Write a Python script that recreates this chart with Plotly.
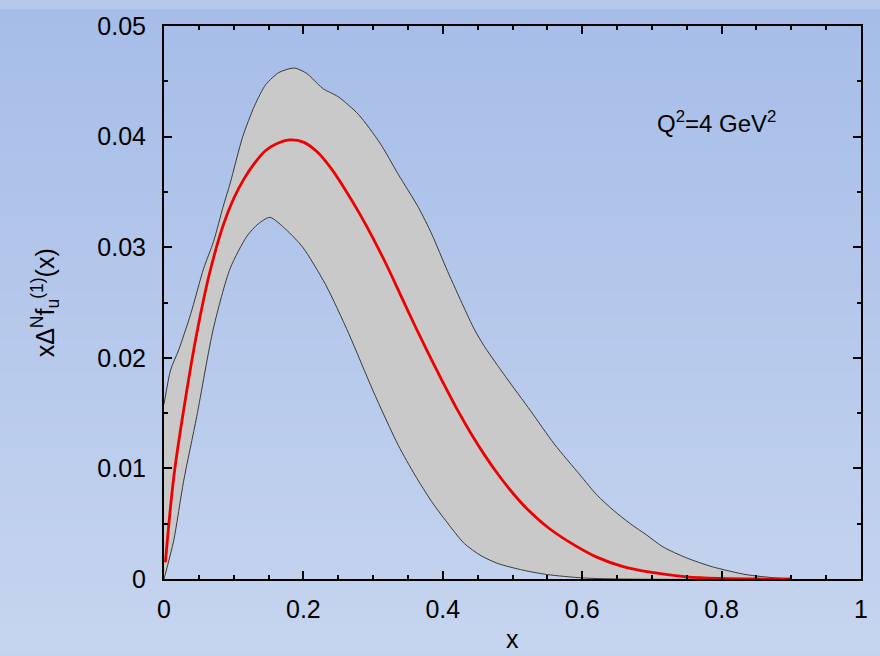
import plotly.graph_objects as go

# ---- data ----
x_central = [0.002, 0.014, 0.028, 0.047, 0.066, 0.085, 0.100, 0.115, 0.130, 0.145, 0.160, 0.180,
             0.200, 0.220, 0.240, 0.260, 0.280, 0.300, 0.320, 0.340, 0.360, 0.380, 0.400, 0.420, 0.440,
             0.460, 0.480, 0.500, 0.520, 0.550, 0.580, 0.620, 0.660, 0.700, 0.750, 0.800, 0.850, 0.900]
y_central = [0.0015, 0.0092, 0.0152, 0.0222, 0.0278, 0.0320, 0.0344, 0.0362, 0.0376, 0.0387, 0.0393, 0.0397,
             0.0395, 0.0386, 0.0371, 0.0352, 0.0331, 0.0308, 0.0283, 0.0256, 0.0229, 0.0203, 0.0178, 0.0154, 0.0132,
             0.0112, 0.0094, 0.0078, 0.0064, 0.0047, 0.0034, 0.0020, 0.0011, 0.0006, 0.0002, 0.00005, 0.0, 0.0]

x_upper = [0.0, 0.0095, 0.021, 0.038, 0.057, 0.071, 0.085, 0.095, 0.113, 0.130, 0.146, 0.165, 0.187,
           0.205, 0.220, 0.229, 0.250, 0.279, 0.310, 0.336, 0.365, 0.384, 0.407, 0.430, 0.445, 0.460, 0.490,
           0.526, 0.560, 0.597, 0.621, 0.645, 0.669, 0.692, 0.716, 0.750, 0.787, 0.835, 0.877, 0.900]
y_upper = [0.0158, 0.0189, 0.0207, 0.0239, 0.0281, 0.0305, 0.0337, 0.0358, 0.0400, 0.0428, 0.0447, 0.0458, 0.0462,
           0.0457, 0.0448, 0.0443, 0.0436, 0.0420, 0.0394, 0.0366, 0.0336, 0.0312, 0.0278, 0.0246, 0.0226, 0.0210, 0.0183,
           0.0152, 0.0122, 0.0094, 0.0076, 0.0062, 0.0050, 0.0040, 0.0029, 0.0019, 0.0011, 0.0004, 0.0001, 0.0]

x_lower = [0.0, 0.014, 0.028, 0.047, 0.071, 0.095, 0.119, 0.135, 0.152, 0.175, 0.199, 0.232, 0.265,
           0.300, 0.336, 0.360, 0.384, 0.410, 0.431, 0.455, 0.479, 0.515, 0.550, 0.600, 0.650]
y_lower = [0.0, 0.0035, 0.0088, 0.0147, 0.0227, 0.0281, 0.0310, 0.0321, 0.0327, 0.0316, 0.0300, 0.0266, 0.0222,
           0.0170, 0.0121, 0.0094, 0.0070, 0.0048, 0.0032, 0.0021, 0.0014, 0.0008, 0.0004, 0.0001, 0.0]

x_ticks = [0, 0.2, 0.4, 0.6, 0.8, 1.0]
x_ticklabels = ["0", "0.2", "0.4", "0.6", "0.8", "1"]
y_ticks = [0, 0.01, 0.02, 0.03, 0.04, 0.05]
y_ticklabels = ["0", "0.01", "0.02", "0.03", "0.04", "0.05"]

FONT = "Liberation Sans, Arial, sans-serif"
FS = 25

fig = go.Figure()

# uncertainty band (closed polygon)
band_x = list(x_upper) + list(reversed(x_lower))
band_y = list(y_upper) + list(reversed(y_lower))
fig.add_trace(go.Scatter(x=band_x, y=band_y, mode="lines", fill="toself",
                         fillcolor="#c9c9c9", line=dict(color="#3a3a3a", width=1, shape="spline", smoothing=0.7),
                         hoverinfo="skip", showlegend=False))

fig.add_trace(go.Scatter(x=x_central, y=y_central, mode="lines",
                         line=dict(color="#ee0000", width=2.8, shape="spline", smoothing=1.0),
                         showlegend=False))

# background vertical gradient made of thin strips
W, H = 880, 656
ml, mr, mt, mb = 164, 14, 17, 77
pw, ph = W - ml - mr, H - mt - mb
top_c = (0xa6, 0xbd, 0xe8)
bot_c = (0xc6, 0xd5, 0xef)
n = 80
shapes = []
y_top = 1 + mt / ph
y_bot = -mb / ph
x_left = -ml / pw
x_right = 1 + mr / pw
for i in range(n):
    t = (i + 0.5) / n
    c = tuple(round(top_c[k] + (bot_c[k] - top_c[k]) * t) for k in range(3))
    y1 = y_top - (y_top - y_bot) * i / n
    y0 = y_top - (y_top - y_bot) * (i + 1) / n - 0.002
    shapes.append(dict(type="rect", xref="paper", yref="paper", x0=x_left - 0.01, x1=x_right + 0.01,
                       y0=y0, y1=y1, fillcolor="rgb(%d,%d,%d)" % c, line=dict(width=0), layer="below"))

fig.update_layout(
    width=W, height=H,
    margin=dict(l=ml, r=mr, t=mt, b=mb),
    paper_bgcolor="#b6c9eb",
    plot_bgcolor="rgba(0,0,0,0)",
    shapes=shapes,
    font=dict(family=FONT, size=FS, color="black"),
    showlegend=False,
    annotations=[
        dict(x=0.792, y=0.0413, xref="x", yref="y", text="Q<sup>2</sup>=4 GeV<sup>2</sup>",
             showarrow=False, font=dict(family=FONT, size=FS - 1, color="black"), xanchor="center", yanchor="middle"),
        dict(x=0.5, y=-(640 - 579) / ph, xref="paper", yref="paper", text="x", showarrow=False,
             font=dict(family=FONT, size=FS, color="black"), xanchor="center", yanchor="middle"),
        dict(x=(44 - ml) / pw, y=0.5, xref="paper", yref="paper", textangle=-90,
             text="xΔ<sup>N</sup>f<sub>u</sub><sup>(1)</sup>(x)", showarrow=False,
             font=dict(family=FONT, size=FS, color="black"), xanchor="center", yanchor="middle"),
    ],
)

axis_common = dict(showgrid=False, zeroline=False, showline=True, linecolor="black", linewidth=2,
                   mirror="allticks", ticks="inside", tickcolor="black", tickwidth=2, ticklen=8)

fig.update_xaxes(range=[0, 1], tickvals=x_ticks, ticktext=x_ticklabels,
                 minor=dict(dtick=0.05, tick0=0, ticks="inside", ticklen=4, tickwidth=2, tickcolor="black"),
                 ticklabelstandoff=7, **axis_common)
fig.update_yaxes(range=[0, 0.05], tickvals=y_ticks, ticktext=y_ticklabels,
                 minor=dict(dtick=0.005, tick0=0, ticks="inside", ticklen=4, tickwidth=2, tickcolor="black"),
                 ticklabelstandoff=11, **axis_common)

fig.write_html("out.html")
